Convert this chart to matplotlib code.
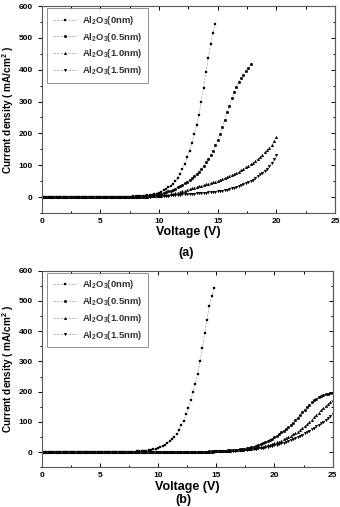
import matplotlib
matplotlib.use("Agg")
import matplotlib.pyplot as plt
import numpy as np

plt.rcParams["font.family"] = ["Liberation Sans", "DejaVu Sans"]
plt.rcParams["font.weight"] = "bold"
plt.rcParams["mathtext.fontset"] = "custom"
plt.rcParams["mathtext.rm"] = "Liberation Sans:bold"
plt.rcParams["mathtext.default"] = "rm"

# series labels
labels = ["Al$_2$O$_3$(0nm)", "Al$_2$O$_3$(0.5nm)", "Al$_2$O$_3$(1.0nm)", "Al$_2$O$_3$(1.5nm)"]

# current density (mA/cm2), voltage swept in 0.2 V steps from 0 V
# ---- panel (a) ----
a_0nm = [0, 0, 0, 0, 0, 0, 0, 0, 0, 0,
         0, 0, 0, 0, 0, 0, 0, 0, 0, 0,
         0, 0, 0, 0, 0, 0, 0, 0, 0, 0, 0,
         0.3, 0.4, 0.5, 0.6, 0.8, 1.0, 1.2, 1.5, 1.8, 2.2,
         2.7, 3.2, 3.8, 4.4, 5.0, 6.0, 7.5, 9.0, 11, 14,
         17, 21, 25, 30, 36, 42, 50, 60, 73, 89,
         104, 125, 146, 171, 198, 226, 258, 300, 343, 393,
         438, 482, 516, 543]
a_05nm = [0, 0, 0, 0, 0, 0, 0, 0, 0, 0,
          0, 0, 0, 0, 0, 0, 0, 0, 0, 0,
          0, 0, 0, 0, 0, 0, 0, 0, 0, 0, 0,
          0.2, 0.3, 0.3, 0.4, 0.5, 0.6, 0.7, 0.9, 1.0, 1.2,
          1.6, 2.0, 2.5, 3.0, 3.6, 4.3, 5.2, 6.3, 7.6, 9.0,
          11, 13, 15, 17.5, 20, 23, 26.5, 30, 34, 38,
          43, 48, 54, 60, 66, 73, 80, 89, 98, 109,
          120, 133, 146, 162, 180, 198, 219, 242, 266, 287,
          310, 329, 347, 362, 375, 385, 396, 406, 417]
a_10nm = [0, 0, 0, 0, 0, 0, 0, 0, 0, 0,
          0, 0, 0, 0, 0, 0, 0, 0, 0, 0,
          0, 0, 0, 0, 0, 0, 0, 0, 0, 0, 0,
          0.2, 0.2, 0.3, 0.3, 0.4, 0.4, 0.5, 0.6, 0.7, 0.8,
          0.9, 1.0, 1.2, 1.4, 1.5, 2.0, 2.3, 2.8, 3.3, 4.0,
          4.8, 5.6, 6.6, 7.7, 9, 10.5, 12, 14, 16, 18,
          20, 22, 24.5, 27, 29, 31, 34, 36, 38, 40,
          42, 44, 46, 48.5, 51, 54, 56.5, 59.5, 62.5, 66,
          69.5, 72.5, 76, 80, 84, 88.5, 93, 98, 103, 108,
          114, 120, 126, 133, 140, 148, 155, 164, 175, 188]
a_15nm = [0, 0, 0, 0, 0, 0, 0, 0, 0, 0,
          0, 0, 0, 0, 0, 0, 0, 0, 0, 0,
          0, 0, 0, 0, 0, 0, 0, 0, 0, 0, 0,
          0.1, 0.1, 0.2, 0.2, 0.3, 0.3, 0.4, 0.4, 0.5, 0.6,
          0.7, 0.8, 0.9, 1.0, 1.2, 1.4, 1.7, 2.0, 2.5, 3.0,
          3.4, 3.8, 4.2, 4.6, 5, 5.6, 6.2, 6.8, 7.4, 8,
          8.4, 8.8, 9.3, 10, 11, 11.6, 12.2, 12.8, 13.4, 14,
          14.8, 15.6, 16.4, 17.2, 18, 19.5, 20.5, 21.7, 23.2, 25,
          27, 28.8, 31, 34, 37, 40.5, 43.5, 47, 51, 55,
          59.5, 65, 71, 77, 83, 89.5, 97, 106, 118, 132]

# ---- panel (b) ----
b_0nm = a_0nm
b_05nm = [0, 0, 0, 0, 0, 0, 0, 0, 0, 0,
          0, 0, 0, 0, 0, 0, 0, 0, 0, 0,
          0, 0, 0, 0, 0, 0, 0, 0, 0, 0, 0,
          0.0, 0.0, 0.0, 0.1, 0.1, 0.1, 0.1, 0.1, 0.1, 0.2,
          0.2, 0.2, 0.2, 0.2, 0.3, 0.3, 0.3, 0.3, 0.3, 0.4,
          0.4, 0.4, 0.4, 0.4, 0.4, 0.4, 0.4, 0.5, 0.5, 0.5,
          0.5, 0.6, 0.7, 0.8, 0.9, 1.0, 1.2, 1.4, 1.6, 1.8,
          2.0, 2.3, 2.6, 3.0, 3.3, 3.7, 4.1, 4.6, 5.1, 5.7,
          6.3, 7.0, 7.8, 8.7, 9.7, 10.8, 12, 13.4, 15, 16.7,
          18.5, 20.5, 23, 26, 29, 32.5, 36, 40.5, 45, 50,
          55, 60, 65.5, 71, 77, 84, 91, 98, 106, 114,
          123, 132, 141, 149, 157, 165, 172, 177, 182, 186,
          189, 191, 193, 194, 195]
b_10nm = [0, 0, 0, 0, 0, 0, 0, 0, 0, 0,
          0, 0, 0, 0, 0, 0, 0, 0, 0, 0,
          0, 0, 0, 0, 0, 0, 0, 0, 0, 0, 0,
          0.0, 0.0, 0.0, 0.0, 0.1, 0.1, 0.1, 0.1, 0.1, 0.1,
          0.1, 0.1, 0.2, 0.2, 0.2, 0.2, 0.2, 0.2, 0.2, 0.2,
          0.2, 0.2, 0.2, 0.3, 0.3, 0.3, 0.3, 0.3, 0.3, 0.3,
          0.3, 0.4, 0.5, 0.6, 0.7, 0.8, 0.9, 1.0, 1.2, 1.4,
          1.6, 1.8, 2.0, 2.3, 2.6, 3.0, 3.4, 3.8, 4.3, 4.8,
          5.3, 5.9, 6.5, 7.2, 7.9, 8.6, 9.4, 10.2, 11.1, 12,
          13, 14.2, 15.5, 17, 18.6, 20.4, 22.4, 24.6, 27, 29.5,
          32, 35, 38.5, 42, 46, 50, 54, 58.5, 63, 68,
          73, 79, 85, 92, 99, 107, 115, 123, 131, 139,
          146, 153, 160, 167, 174]
b_15nm = [0, 0, 0, 0, 0, 0, 0, 0, 0, 0,
          0, 0, 0, 0, 0, 0, 0, 0, 0, 0,
          0, 0, 0, 0, 0, 0, 0, 0, 0, 0, 0,
          0.0, 0.0, 0.0, 0.0, 0.0, 0.1, 0.1, 0.1, 0.1, 0.1,
          0.1, 0.1, 0.1, 0.1, 0.2, 0.2, 0.2, 0.2, 0.2, 0.2,
          0.2, 0.2, 0.2, 0.2, 0.2, 0.2, 0.3, 0.3, 0.3, 0.3,
          0.3, 0.3, 0.4, 0.5, 0.6, 0.7, 0.8, 0.9, 1.0, 1.2,
          1.4, 1.6, 1.8, 2.0, 2.3, 2.6, 2.9, 3.2, 3.6, 4.0,
          4.4, 4.8, 5.3, 5.8, 6.4, 7.0, 7.7, 8.4, 9.1, 9.9,
          10.7, 11.6, 12.6, 13.7, 14.9, 16.2, 17.6, 19.1, 20.7, 22.4,
          24.5, 26.7, 29, 31.5, 34.2, 37, 40, 43.2, 46.6, 50.2,
          54, 58, 62, 66, 70.5, 75, 80, 85, 90, 95,
          101, 106, 112, 118, 125]

markers = ["s", "o", "^", "v"]
x_ticks = [0, 5, 10, 15, 20, 25]
y_ticks = [0, 100, 200, 300, 400, 500, 600]


def sweep(values):
    # voltage points of a 0.2 V sweep starting at 0 V
    return np.arange(len(values)) * 0.2


def draw_panel(ax, series):
    for vals, m, lab in zip(series, markers, labels):
        ax.plot(sweep(vals), vals, linestyle=(0, (4, 2)), color="0.6", lw=0.45,
                marker=m, ms=2.0, mfc="black", mec="black", mew=0.2, label=lab)
    ax.set_xlim(0, 25)
    ax.set_ylim(-50, 600)
    ax.set_xticks(x_ticks)
    ax.set_yticks(y_ticks)
    ax.set_xticks(np.arange(2.5, 25, 5), minor=True)
    ax.set_yticks(np.arange(-50, 600, 100), minor=True)
    ax.tick_params(axis="both", which="both", labelsize=6, width=0.7,
                   direction="in", top=True, right=True)
    ax.tick_params(axis="y", which="both", direction="out", left=True, right=False)
    ax.tick_params(which="major", length=3)
    ax.tick_params(which="minor", length=1.8)
    ax.yaxis.set_ticks_position("left")
    ax2 = ax.secondary_yaxis("right")
    ax2.set_yticks(y_ticks, labels=[])
    ax2.set_yticks(np.arange(-50, 600, 100), minor=True)
    ax2.tick_params(which="both", direction="in", width=0.7)
    ax2.tick_params(which="major", length=3)
    ax2.tick_params(which="minor", length=1.8)
    for s in ax.spines.values():
        s.set_linewidth(0.8)
        s.set_color("0.35")
    ax2.spines["right"].set_linewidth(0.8)
    ax2.spines["right"].set_color("0.35")
    ax.set_xlabel("Voltage (V)", fontsize=9, fontweight="bold", labelpad=1)
    ax.set_ylabel("Current density ( mA/cm$^2$ )", fontsize=7.2, fontweight="bold", labelpad=2)
    leg = ax.legend(loc="upper left", bbox_to_anchor=(0.018, 0.99), borderaxespad=0,
                    fontsize=6.8, frameon=True, fancybox=False, handlelength=2.6,
                    handletextpad=0.5, labelspacing=0.4, borderpad=0.6,
                    numpoints=1)
    leg.get_frame().set_edgecolor("0.45")
    leg.get_frame().set_linewidth(0.7)
    for t in leg.get_texts():
        t.set_color("0.2")


fig = plt.figure(figsize=(3.4, 5.07), dpi=100)
ax_a = fig.add_axes([0.1226, 0.580, 0.8627, 0.408])
ax_b = fig.add_axes([0.1226, 0.0783, 0.8559, 0.3878])

draw_panel(ax_a, [a_0nm, a_05nm, a_10nm, a_15nm])
draw_panel(ax_b, [b_0nm, b_05nm, b_10nm, b_15nm])

fig.text(0.547, 1 - 253 / 507, "(a)", ha="center", va="center", fontsize=9, fontweight="bold")
fig.text(0.540, 1 - 500 / 507, "(b)", ha="center", va="center", fontsize=9, fontweight="bold")

fig.savefig("out.png", dpi=100)
plt.close()
